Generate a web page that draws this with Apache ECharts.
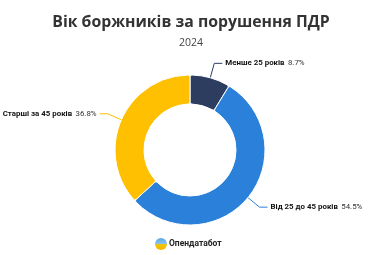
<!DOCTYPE html>
<html><head><meta charset="utf-8">
<script src="https://cdn.jsdelivr.net/npm/echarts@6/dist/echarts.min.js"></script>
<style>html,body{margin:0;padding:0;background:#fff}#c{width:382px;height:255px}</style>
</head><body><div id="c"></div>
<script>
const categories = ['Менше 25 років', 'Від 25 до 45 років', 'Старші за 45 років'];
const values = [8.7, 54.5, 36.8];
const colors = ['#2c3d5f', '#2b80d9', '#fec000'];
const titleText = 'Вік боржників за порушення ПДР';
const subtitleText = '2024';
const sourceText = 'Опендатабот';

const chart = echarts.init(document.getElementById('c'), null, {renderer: 'canvas'});
const font = '"Open Sans", "Noto Sans", sans-serif';
const lfont = 'Roboto, "Open Sans", sans-serif';
chart.setOption({
  animation: false,
  title: {
    text: titleText, subtext: subtitleText, left: 'center', top: 9, itemGap: 8,
    textStyle: {fontFamily: font, fontSize: 15.8, fontWeight: 'bold', color: '#333'},
    subtextStyle: {fontFamily: font, fontSize: 10.5, color: '#444'}
  },
  series: [{
    type: 'pie',
    center: [190, 150],
    radius: [46, 75],
    startAngle: 90,
    clockwise: true,
    data: categories.map((c, i) => ({name: c, value: values[i], itemStyle: {color: colors[i]}})),
    itemStyle: {borderColor: '#fff', borderWidth: 1, borderRadius: 2},
    label: {
      formatter: p => '{b|' + p.name + '} {v|' + p.value.toFixed(1) + '%}',
      overflow: 'none',
      rich: {
        b: {fontFamily: lfont, fontSize: 7.9, fontWeight: 'bold', color: '#111'},
        v: {fontFamily: lfont, fontSize: 7.9, color: '#333'}
      },
      distanceToLabelLine: 3
    },
    labelLine: {length: 15, length2: 8, lineStyle: {width: 1}},
    emphasis: {disabled: true}
  }],
  graphic: [
    {type: 'circle', shape: {cx: 161, cy: 244, r: 6},
     style: {fill: new echarts.graphic.LinearGradient(0, 0, 0, 1, [{offset: 0, color: '#5aa8e6'}, {offset: 0.5, color: '#8cc4e8'}, {offset: 0.55, color: '#f5c400'}, {offset: 1, color: '#f2b800'}])}},
    {type: 'text', left: 169, top: 239,
     style: {text: sourceText, fontFamily: lfont, fontSize: 8.5, fontWeight: 'bold', fill: '#222'}}
  ]
});
</script></body></html>
